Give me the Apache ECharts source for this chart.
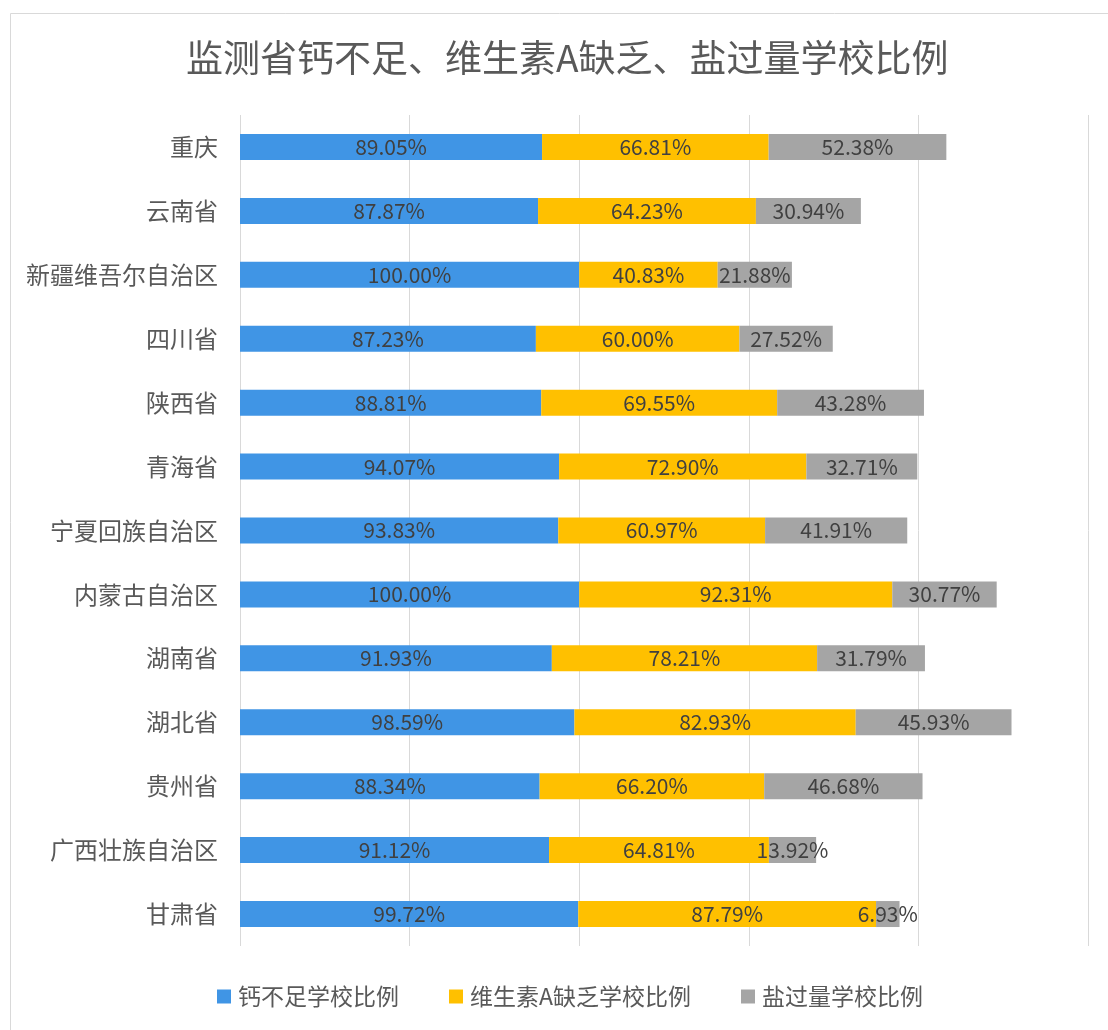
<!DOCTYPE html>
<html>
<head>
<meta charset="utf-8">
<script src="https://cdn.jsdelivr.net/npm/echarts@6/dist/echarts.min.js"></script>
<style>
html,body{margin:0;padding:0;background:#fff;}
#main{width:1108px;height:1030px;}
</style>
</head>
<body>
<div id="main"></div>
<script>
const categories = ['甘肃省','广西壮族自治区','贵州省','湖北省','湖南省','内蒙古自治区','宁夏回族自治区','青海省','陕西省','四川省','新疆维吾尔自治区','云南省','重庆'];
const calcium = [99.72, 91.12, 88.34, 98.59, 91.93, 100.00, 93.83, 94.07, 88.81, 87.23, 100.00, 87.87, 89.05];
const vitaminA = [87.79, 64.81, 66.20, 82.93, 78.21, 92.31, 60.97, 72.90, 69.55, 60.00, 40.83, 64.23, 66.81];
const salt = [6.93, 13.92, 46.68, 45.93, 31.79, 30.77, 41.91, 32.71, 43.28, 27.52, 21.88, 30.94, 52.38];
const seriesNames = ['钙不足学校比例', '维生素A缺乏学校比例', '盐过量学校比例'];
const colors = ['#4095E5', '#FFC000', '#A5A5A5'];

const font = '"Noto Sans CJK SC", "Noto Sans", sans-serif';
const chart = echarts.init(document.getElementById('main'), null, {renderer: 'canvas'});
const label = {
  show: true,
  position: 'inside',
  color: '#404040',
  fontSize: 21,
  fontFamily: font,
  formatter: p => p.value.toFixed(2) + '%'
};
function mk(i, data) {
  return {
    name: seriesNames[i],
    type: 'bar',
    stack: 'total',
    data: data,
    barWidth: 26,
    itemStyle: {color: colors[i]},
    label: label,
    labelLayout: {hideOverlap: false}
  };
}
chart.setOption({
  animation: false,
  textStyle: {fontFamily: font},
  title: {
    text: '监测省钙不足、维生素A缺乏、盐过量学校比例',
    left: 181,
    top: 34,
    textStyle: {fontSize: 37, fontWeight: 'normal', color: '#595959', fontFamily: font}
  },
  graphic: [{
    type: 'rect',
    shape: {x: 10.5, y: 13.5, width: 1200, height: 1200},
    style: {fill: 'none', stroke: '#d9d9d9', lineWidth: 1},
    silent: true
  }],
  legend: {
    bottom: 17,
    left: 212,
    itemWidth: 14,
    itemHeight: 14,
    itemGap: 50,
    icon: 'rect',
    textStyle: {fontSize: 23, color: '#595959', fontFamily: font, padding: [0,0,0,2]},
    data: seriesNames
  },
  grid: {left: 240, right: 20, top: 115, bottom: 84, containLabel: false},
  xAxis: {
    type: 'value',
    min: 0,
    max: 250,
    interval: 50,
    axisLabel: {show: false},
    axisLine: {show: false},
    axisTick: {show: false},
    splitLine: {lineStyle: {color: '#d9d9d9', width: 1}}
  },
  yAxis: {
    type: 'category',
    data: categories,
    axisLine: {show: false},
    axisTick: {show: false},
    axisLabel: {fontSize: 24, color: '#595959', margin: 22, fontFamily: font}
  },
  series: [mk(0, calcium), mk(1, vitaminA), mk(2, salt)]
});
</script>
</body>
</html>
